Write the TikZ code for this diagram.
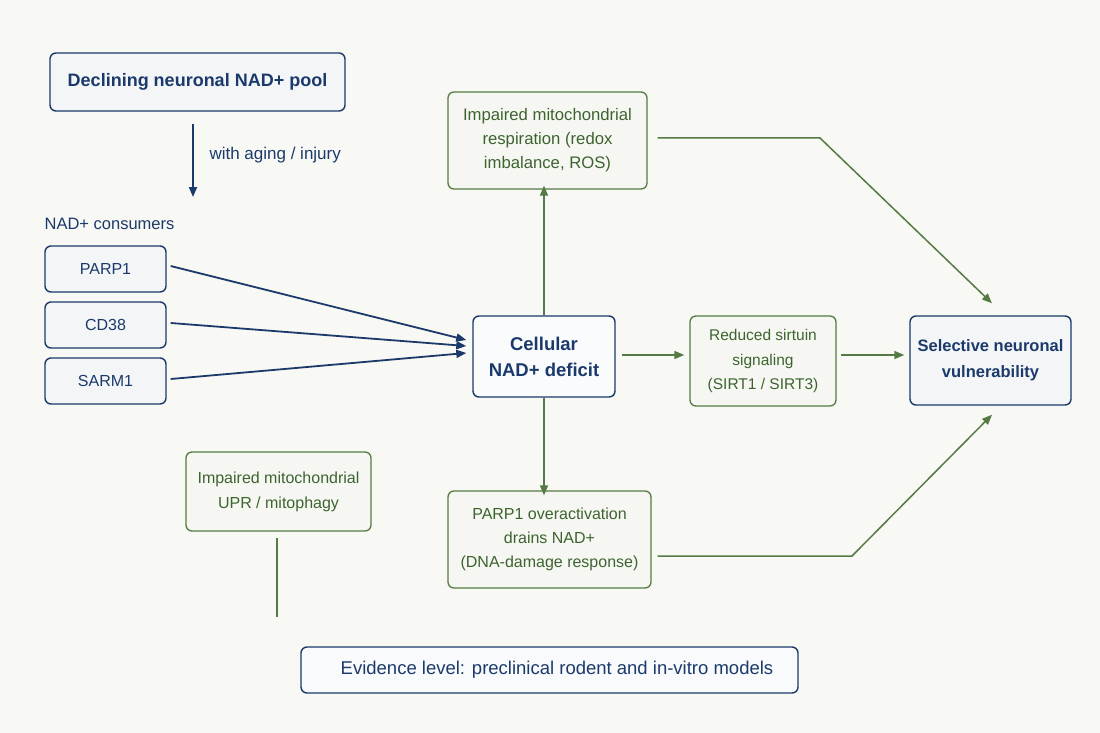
\documentclass[tikz,border=0pt]{standalone}
\usepackage{fontspec}
\setmainfont{Liberation Sans}
\usetikzlibrary{arrows.meta,calc}
\definecolor{bgc}{HTML}{F8F8F4}
\definecolor{navy}{HTML}{1B3A6B}
\definecolor{gline}{HTML}{557A43}
\definecolor{gtext}{HTML}{3D6430}
\definecolor{bfill}{HTML}{F3F5F7}
\definecolor{gfill}{HTML}{F6F7F2}
\newcommand{\fs}[2]{\fontsize{#1}{#2}\selectfont}
\begin{document}
\begin{tikzpicture}[x=1pt,y=-1pt,
  bluebox/.style={draw=navy,line width=1.4pt,rounded corners=6pt,fill=bfill,text=navy,align=center,inner sep=0pt},
  greenbox/.style={draw=gline,line width=1.3pt,rounded corners=6pt,fill=gfill,text=gtext,align=center,inner sep=0pt},
  navyarrow/.style={draw=navy,line width=1.8pt,-{Triangle[length=10pt,width=8pt]}},
  greenarrow/.style={draw=gline,line width=1.5pt,-{Triangle[length=10pt,width=8pt]}},
  greenline/.style={draw=gline,line width=1.5pt}]
\fill[bgc] (0,0) rectangle (1100,733);
\useasboundingbox (0,0) rectangle (1100,733);

\node[bluebox,minimum width=295pt,minimum height=58pt,font=\fs{18}{24}\bfseries] (decl) at (197.5,82) {Declining neuronal NAD+ pool};
\coordinate (declend) at (193,197);
\draw[navyarrow] ([xshift=-4.5pt,yshift=-12pt]decl.south) -- (declend);
\node[anchor=west,text=navy,font=\fs{17}{20}] (aging) at (206,155) {with aging / injury};

\node[anchor=center,text=navy,font=\fs{16.5}{20}] (cons) at (109.5,224) {NAD+ consumers};
\node[bluebox,minimum width=121pt,minimum height=46pt,font=\fs{16}{20}] (parp) at (105.5,269) {PARP1};
\node[bluebox,minimum width=121pt,minimum height=46pt,font=\fs{16}{20}] (cd) at (105.5,325) {CD38};
\node[bluebox,minimum width=121pt,minimum height=46pt,font=\fs{16}{20}] (sarm) at (105.5,381) {SARM1};

\node[bluebox,minimum width=142pt,minimum height=81pt,font=\fs{18.5}{26}\bfseries,fill=white!60!bfill] (def) at (544,356.5) {Cellular\\NAD+ deficit};

\draw[navyarrow] ([xshift=4pt,yshift=3pt]parp.east) -- ([xshift=-6pt,yshift=16.5pt]def.west);
\draw[navyarrow] ([xshift=4pt,yshift=2pt]cd.east) -- ([xshift=-6pt,yshift=10.5pt]def.west);
\draw[navyarrow] ([xshift=4pt,yshift=2pt]sarm.east) -- ([xshift=-6pt,yshift=3.5pt]def.west);

\node[greenbox,minimum width=199pt,minimum height=97pt,font=\fs{16.7}{24}] (mito) at (547.5,140.5) {Impaired mitochondrial\\respiration (redox\\imbalance, ROS)};
\node[greenbox,minimum width=146pt,minimum height=90pt,font=\fs{15.5}{24.5}] (sirt) at (763,361) {Reduced sirtuin\\signaling\\(SIRT1 / SIRT3)};
\node[bluebox,minimum width=161pt,minimum height=89pt,font=\fs{16.5}{26}\bfseries] (sel) at (990.5,360.5) {Selective neuronal\\vulnerability};
\node[greenbox,minimum width=203pt,minimum height=97pt,font=\fs{16}{24}] (pov) at (549.5,539.5) {PARP1 overactivation\\drains NAD+\\(DNA-damage response)};
\node[greenbox,minimum width=185pt,minimum height=79pt,font=\fs{16}{25}] (upr) at (278.5,491.5) {Impaired mitochondrial\\UPR / mitophagy};
\node[bluebox,minimum width=497pt,minimum height=46pt,font=\fs{18.5}{22},fill=white!50!bfill] (evid) at (549.5,670) {\hspace*{15pt}Evidence level: preclinical rodent and in-vitro models};

\draw[greenarrow] (def.north) -- ([yshift=4pt]def.north |- mito.south);
\draw[greenarrow] (def.south) -- ([yshift=-5pt]def.south |- pov.north);
\draw[greenarrow] ([xshift=6pt,yshift=1.5pt]def.east) -- ([xshift=-5pt,yshift=6pt]sirt.west);
\draw[greenarrow] ([xshift=4pt,yshift=6pt]sirt.east) -- ([xshift=-5pt,yshift=5.5pt]sel.west);

\coordinate (k1) at (820,138);
\draw[greenarrow] ([xshift=10pt,yshift=2.5pt]mito.east) -- (k1) -- ([xshift=1.5pt,yshift=12pt]sel.north);
\coordinate (k2) at (852,556);
\draw[greenarrow] ([xshift=6pt,yshift=-16.5pt]pov.east) -- (k2) -- ([xshift=1.5pt,yshift=-9pt]sel.south);

\coordinate (uprend) at (277,617);
\draw[greenline] ([xshift=-1.5pt,yshift=-6pt]upr.south) -- (uprend);
\end{tikzpicture}
\end{document}
